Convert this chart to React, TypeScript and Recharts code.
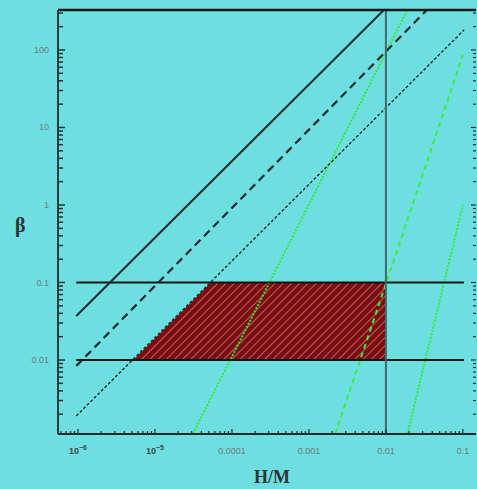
import React from 'react';
import { ComposedChart, Line, Area, XAxis, YAxis, ReferenceLine, Label } from 'recharts';

// axis ranges (log10 scale)
const xDomain = [5.5e-7, 0.148];
const yDomain = [0.00111, 328];

const xMajorTicks = [1e-6, 1e-5, 1e-4, 1e-3, 0.01, 0.1];
const xMajorLabels = ['10', '10', '0.0001', '0.001', '0.01', '0.1'];
const xMajorExp = ['−6', '−5', '', '', '', ''];
const yMajorTicks = [0.01, 0.1, 1, 10, 100];
const yMajorLabels = ['0.01', '0.1', '1', '10', '100'];

// curves
const blackSolid = [{ x: 9.5e-7, y: 0.037 }, { x: 0.0094, y: 328 }];
const blackDashed = [{ x: 9.5e-7, y: 0.0084 }, { x: 0.034, y: 328 }];
const blackFine = [{ x: 9.5e-7, y: 0.0019 }, { x: 0.104, y: 182 }];
const greenDotted = [{ x: 3.1e-5, y: 0.00111 }, { x: 0.019, y: 328 }];
const greenDashed = [{ x: 0.0022, y: 0.00111 }, { x: 0.1, y: 86 }];
const greenSteep = [{ x: 0.019, y: 0.00111 }, { x: 0.1, y: 1 }];
const betaLow = [{ x: 9.5e-7, y: 0.01 }, { x: 0.103, y: 0.01 }];
const betaHigh = [{ x: 9.5e-7, y: 0.1 }, { x: 0.103, y: 0.1 }];
const allowedRegion = [
  { x: 5.2e-6, band: [0.01, 0.01] },
  { x: 5.3e-5, band: [0.01, 0.1] },
  { x: 0.01, band: [0.01, 0.1] },
];
const cutoffX = 0.01;

function logTicks(lo: number, hi: number) {
  const out: number[] = [];
  for (let e = Math.floor(Math.log10(lo)); e <= Math.ceil(Math.log10(hi)); e++) {
    for (let m = 1; m <= 9; m++) {
      const v = m * Math.pow(10, e);
      if (v >= lo && v <= hi) out.push(v);
    }
  }
  return out;
}
const xTicks = logTicks(xDomain[0], xDomain[1]);
const yTicks = logTicks(yDomain[0], yDomain[1]);

const idx = (arr: number[], v: number) =>
  arr.findIndex((a) => Math.abs(Math.log10(a) - Math.log10(v)) < 1e-6);

const tickColor = '#1e3233';
const labelFont = { fontFamily: 'Liberation Sans', fontSize: 9, fill: '#6a7d7e' };

const BottomTick = (props: any) => {
  const { x, y, payload } = props;
  const i = idx(xMajorTicks, payload.value);
  return (
    <g>
      <line x1={x} x2={x} y1={y} y2={y - (i >= 0 ? 5 : 3)} stroke={tickColor} strokeWidth={1.2} />
      {i >= 0 && (
        <text x={x} y={y + 20} textAnchor="middle" {...labelFont} fill={xMajorExp[i] ? '#3a4a4b' : labelFont.fill}
          fontWeight={xMajorExp[i] ? 'bold' : 'normal'}>
          {xMajorLabels[i]}
          {xMajorExp[i] && <tspan dy={-4} fontSize={7}>{xMajorExp[i]}</tspan>}
        </text>
      )}
    </g>
  );
};

const TopTick = (props: any) => {
  const { x, y, payload } = props;
  const i = idx(xMajorTicks, payload.value);
  return <line x1={x} x2={x} y1={y} y2={y + (i >= 0 ? 5 : 3)} stroke={tickColor} strokeWidth={1.2} />;
};

const LeftTick = (props: any) => {
  const { x, y, payload } = props;
  const i = idx(yMajorTicks, payload.value);
  return (
    <g>
      <line x1={x} x2={x + (i >= 0 ? 7 : 5)} y1={y} y2={y} stroke={tickColor} strokeWidth={1.5} />
      {i >= 0 && (
        <text x={x - 9} y={y + 3} textAnchor="end" {...labelFont}>
          {yMajorLabels[i]}
        </text>
      )}
    </g>
  );
};

const RightTick = (props: any) => {
  const { x, y, payload } = props;
  const i = idx(yMajorTicks, payload.value);
  return <line x1={x} x2={x - (i >= 0 ? 5 : 3)} y1={y} y2={y} stroke={tickColor} strokeWidth={1.2} />;
};

export default function App() {
  return (
    <div style={{ position: 'absolute', left: 0, top: 0, width: 477, height: 489, background: '#6ddfe0' }}>
      <ComposedChart width={477} height={489} margin={{ top: 0, right: 0, bottom: 0, left: 0 }}>
        <defs>
          <pattern id="hatch" width="5.8" height="5.8" patternUnits="userSpaceOnUse" patternTransform="rotate(45)">
            <rect width="5.8" height="5.8" fill="#7c0c10" />
            <line x1="0" y1="0" x2="0" y2="5.8" stroke="#c98c90" strokeWidth="1.4" />
          </pattern>
        </defs>
        <XAxis xAxisId={0} type="number" dataKey="x" scale="log" domain={xDomain} allowDataOverflow
          ticks={xTicks} interval={0} tick={<BottomTick />} tickSize={0} tickMargin={0} tickLine={false}
          height={55} axisLine={{ stroke: '#1a2828', strokeWidth: 2 }}>
          <Label value="H/M" position="insideBottom" offset={6} dx={5}
            style={{ fontFamily: 'Liberation Serif', fontWeight: 'bold', fontSize: 18, fill: '#2a3434' }} />
        </XAxis>
        <XAxis xAxisId="top" orientation="top" type="number" scale="log" domain={xDomain} allowDataOverflow
          ticks={xTicks} interval={0} tick={<TopTick />} tickSize={0} tickMargin={0} tickLine={false}
          height={10} axisLine={{ stroke: '#101818', strokeWidth: 2.5 }} />
        <YAxis yAxisId={0} type="number" dataKey="y" scale="log" domain={yDomain} allowDataOverflow
          ticks={yTicks} interval={0} tick={<LeftTick />} tickSize={0} tickMargin={0} tickLine={false}
          width={58} axisLine={{ stroke: '#2a3c3d', strokeWidth: 2 }}>
          <Label value="β" position="insideLeft" offset={15} dy={3}
            style={{ fontFamily: 'Liberation Serif', fontWeight: 'bold', fontSize: 20, fill: '#2a3434' }} />
        </YAxis>
        <YAxis yAxisId="right" orientation="right" type="number" scale="log" domain={yDomain} allowDataOverflow
          ticks={yTicks} interval={0} tick={<RightTick />} tickSize={0} tickMargin={0} tickLine={false}
          width={1} axisLine={false} />

        <Line data={greenDotted} dataKey="y" type="linear" stroke="#33ea33" strokeWidth={2}
          strokeDasharray="2 1.5" dot={false} isAnimationActive={false} />
        <Line data={greenDashed} dataKey="y" type="linear" stroke="#3eea3e" strokeWidth={2}
          strokeDasharray="5 4" dot={false} isAnimationActive={false} />
        <Line data={greenSteep} dataKey="y" type="linear" stroke="#33ea33" strokeWidth={2}
          strokeDasharray="2 1.5" dot={false} isAnimationActive={false} />

        <Area data={allowedRegion} dataKey="band" type="linear" stroke="none" fill="url(#hatch)"
          fillOpacity={1} dot={false} activeDot={false} isAnimationActive={false} />

        <Line data={betaHigh} dataKey="y" type="linear" stroke="#0e1616" strokeWidth={2}
          dot={false} isAnimationActive={false} />
        <Line data={betaLow} dataKey="y" type="linear" stroke="#0e1616" strokeWidth={2}
          dot={false} isAnimationActive={false} />
        <Line data={blackSolid} dataKey="y" type="linear" stroke="#1c2a2b" strokeWidth={2}
          dot={false} isAnimationActive={false} />
        <Line data={blackDashed} dataKey="y" type="linear" stroke="#1c2a2b" strokeWidth={2.2}
          strokeDasharray="8 5" dot={false} isAnimationActive={false} />
        <Line data={blackFine} dataKey="y" type="linear" stroke="#1c2a2b" strokeWidth={1.4}
          strokeDasharray="3 2" dot={false} isAnimationActive={false} />

        <ReferenceLine x={cutoffX} stroke="#41696b" strokeWidth={2} />
      </ComposedChart>
    </div>
  );
}
